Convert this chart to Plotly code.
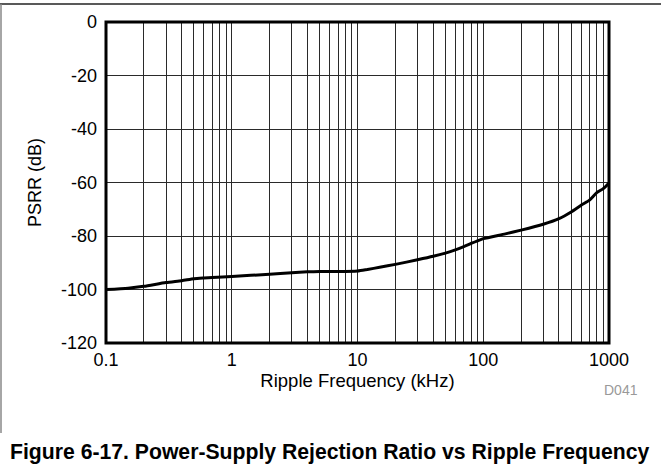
import plotly.graph_objects as go

freq_khz = [0.1, 0.15, 0.2, 0.3, 0.4, 0.5, 0.6, 0.7, 1, 2, 3, 4, 5, 7, 10, 12, 15,
            20, 30, 40, 50, 60, 70, 80, 90, 100, 150, 200, 300, 400, 500, 600,
            700, 800, 900, 1000]
psrr_db = [-100, -99.5, -98.8, -97.4, -96.7, -96.0, -95.7, -95.5, -95.1, -94.3,
           -93.7, -93.4, -93.3, -93.3, -93.1, -92.5, -91.7, -90.6, -88.9, -87.6,
           -86.4, -85.2, -84.0, -82.8, -81.8, -81.0, -79.2, -77.8, -75.6, -73.5,
           -71.0, -68.5, -66.6, -63.8, -62.3, -60.2]

x_ticks = [0.1, 1, 10, 100, 1000]
x_tick_labels = ["0.1", "1", "10", "100", "1000"]
y_ticks = [0, -20, -40, -60, -80, -100, -120]
y_tick_labels = ["0", "-20", "-40", "-60", "-80", "-100", "-120"]

x_title = "Ripple Frequency (kHz)"
y_title = "PSRR (dB)"
caption = "Figure 6-17. Power-Supply Rejection Ratio vs Ripple Frequency"
code_label = "D041"

FONT = "Liberation Sans, Arial, sans-serif"
GRID = "#2a2a2a"

fig = go.Figure()
fig.add_trace(go.Scatter(x=freq_khz, y=psrr_db, mode="lines",
                         line=dict(color="black", width=3, shape="spline", smoothing=0.6),
                         showlegend=False, hoverinfo="skip"))

W, H = 661, 471
L, R, T, B = 106, 52, 22, 128
pw, ph = W - L - R, H - T - B

def px(x):
    return (x - L) / pw

def py(y):
    return (H - B - y) / ph

fig.update_layout(
    width=W, height=H,
    margin=dict(l=L, r=R, t=T, b=B, autoexpand=False),
    paper_bgcolor="white", plot_bgcolor="white",
    font=dict(family=FONT, size=18, color="black"),
    xaxis=dict(type="log", range=[-1, 3], tickvals=x_ticks, ticktext=x_tick_labels,
               showgrid=True, gridcolor=GRID, gridwidth=1, ticks="",
               minor=dict(dtick="D1", showgrid=True, gridcolor=GRID, gridwidth=1),
               zeroline=False, showline=False, automargin=False,
               ticklabelstandoff=4,
               title=dict(text=x_title, font=dict(size=18.5), standoff=5),
               tickfont=dict(size=18)),
    yaxis=dict(range=[-120, 0], tickvals=y_ticks, ticktext=y_tick_labels,
               showgrid=True, gridcolor=GRID, gridwidth=1, ticks="",
               zeroline=False, showline=False, ticklabelstandoff=8, automargin=False,
               title=dict(text=y_title, font=dict(size=18), standoff=14),
               tickfont=dict(size=18)),
    shapes=[
        dict(type="rect", xref="paper", yref="paper", x0=0, x1=1, y0=0, y1=1,
             line=dict(color="black", width=3)),
        dict(type="line", xref="paper", yref="paper", x0=px(0), x1=px(W), y0=py(4), y1=py(4),
             line=dict(color="#222222", width=1.5)),
        dict(type="line", xref="paper", yref="paper", x0=px(1), x1=px(1), y0=py(4), y1=py(433),
             line=dict(color="#888888", width=1.5)),
    ],
    annotations=[
        dict(text=code_label, xref="paper", yref="paper", x=px(621), y=py(390),
             showarrow=False, font=dict(size=14, color="#999999"),
             xanchor="center", yanchor="middle"),
        dict(text="<b>" + caption + "</b>", xref="paper", yref="paper", x=px(8), y=py(452),
             showarrow=False, font=dict(size=21.2, color="black"),
             xanchor="left", yanchor="middle"),
    ],
)

fig.write_html("out.html", config={"displayModeBar": False},
               post_script="document.body.style.margin='0';document.body.style.padding='0';")
